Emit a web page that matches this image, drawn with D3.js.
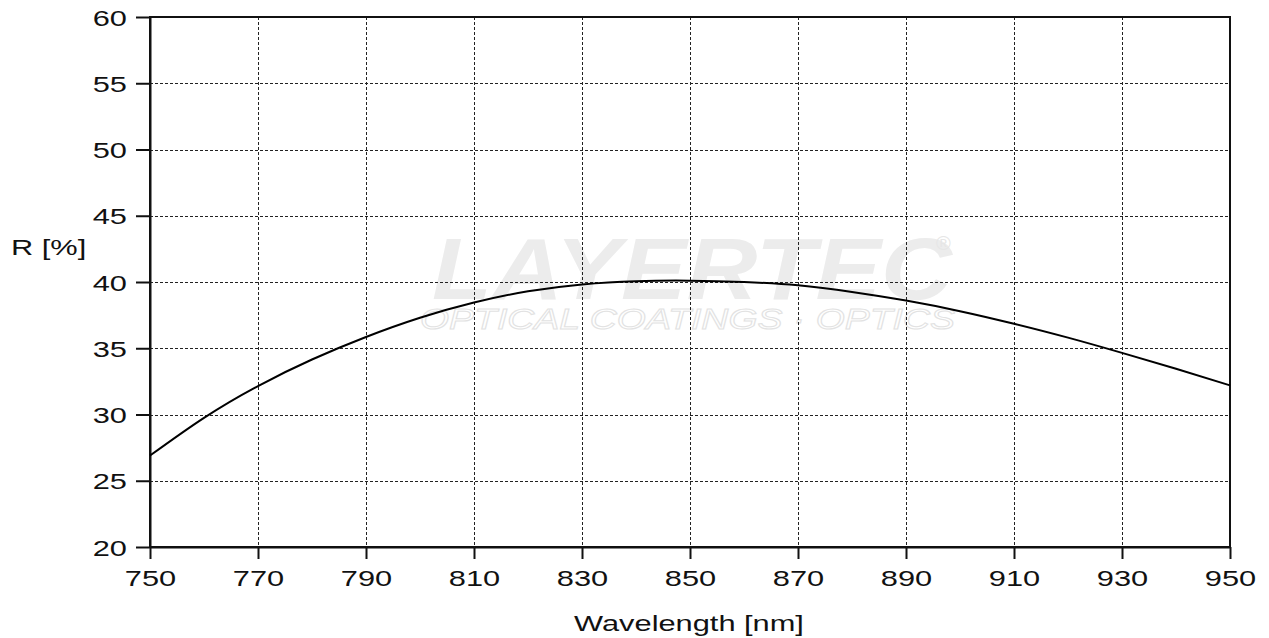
<!DOCTYPE html>
<html>
<head>
<meta charset="utf-8">
<script src="https://cdn.jsdelivr.net/npm/d3@7"></script>
<style>
  html, body { margin: 0; padding: 0; background: #fff; }
  svg text { font-family: "Liberation Sans", Arial, sans-serif; }
</style>
</head>
<body>
<svg id="chart" width="1269" height="638"></svg>
<script>
const wavelengths = [750, 760, 770, 780, 790, 800, 810, 820, 830, 840, 850, 860, 870, 880, 890, 900, 910, 920, 930, 940, 950];
const reflectance = [26.9, 29.75, 32.15, 34.15, 35.85, 37.3, 38.45, 39.3, 39.82, 40.06, 40.1, 40.0, 39.75, 39.25, 38.6, 37.8, 36.85, 35.8, 34.65, 33.45, 32.2];
const xTicks = [750, 770, 790, 810, 830, 850, 870, 890, 910, 930, 950];
const yTicks = [20, 25, 30, 35, 40, 45, 50, 55, 60];
const xLabel = "Wavelength [nm]";
const yLabel = "R [%]";

const svg = d3.select("#chart");
const L = 150, R = 1230, T = 17, B = 547;
const x = d3.scaleLinear().domain([750, 950]).range([L, R]);
const y = d3.scaleLinear().domain([20, 60]).range([B, T]);
const SX = 1.4;

// watermark
const wm = svg.append("g");
wm.append("text")
  .attr("x", 432).attr("y", 299)
  .attr("textLength", 520).attr("lengthAdjust", "spacingAndGlyphs")
  .style("font-size", "88px").style("font-weight", "bold").style("font-style", "italic")
  .attr("fill", "#ececec").text("LAYERTEC");
wm.append("text")
  .attr("x", 936).attr("y", 250)
  .style("font-size", "20px").attr("fill", "#e6e6e6").text("®");
wm.append("text")
  .attr("x", 420).attr("y", 329)
  .attr("textLength", 535).attr("lengthAdjust", "spacingAndGlyphs")
  .style("font-size", "30px").style("font-style", "italic")
  .attr("fill", "none").attr("stroke", "#e2e2e2").attr("stroke-width", 1)
  .text("OPTICAL COATINGS · OPTICS");

// grid
const grid = svg.append("g").attr("stroke", "#222").attr("stroke-width", 1).attr("stroke-dasharray", "3,2");
grid.selectAll("line.v").data(xTicks.slice(1, -1)).enter().append("line")
  .attr("x1", d => Math.round(x(d)) + 0.5).attr("x2", d => Math.round(x(d)) + 0.5)
  .attr("y1", T).attr("y2", B);
grid.selectAll("line.h").data(yTicks.slice(1, -1)).enter().append("line")
  .attr("y1", d => Math.round(y(d)) + 0.5).attr("y2", d => Math.round(y(d)) + 0.5)
  .attr("x1", L).attr("x2", R);

// frame
svg.append("rect").attr("x", L).attr("y", T).attr("width", R - L).attr("height", B - T)
  .attr("fill", "none").attr("stroke", "#111").attr("stroke-width", 2);

// axes
const xAxis = svg.append("g").attr("transform", `translate(0,${B})`)
  .call(d3.axisBottom(x).tickValues(xTicks).tickSize(12).tickSizeOuter(0).tickFormat(d3.format("d")));
const yAxis = svg.append("g").attr("transform", `translate(${L},0)`)
  .call(d3.axisLeft(y).tickValues(yTicks).tickSize(14).tickSizeOuter(0).tickFormat(d3.format("d")));
[xAxis, yAxis].forEach(g => {
  g.select(".domain").attr("stroke", "#111").attr("stroke-width", 2);
  g.selectAll(".tick line").attr("stroke", "#111").attr("stroke-width", 2);
});
xAxis.selectAll(".tick text")
  .attr("y", null).attr("dy", null)
  .attr("transform", `translate(0,39) scale(${SX},1)`)
  .attr("fill", "#111").style("font-size", "22px").attr("text-anchor", "middle");
yAxis.selectAll(".tick text")
  .attr("x", null).attr("dy", null)
  .attr("transform", `translate(-23,8) scale(${SX},1)`)
  .attr("fill", "#111").style("font-size", "22px").attr("text-anchor", "end");

// curve
const line = d3.line().x((d, i) => x(wavelengths[i])).y(d => y(d)).curve(d3.curveNatural);
svg.append("path").datum(reflectance).attr("d", line)
  .attr("fill", "none").attr("stroke", "#000").attr("stroke-width", 2);

// axis titles
svg.append("text").attr("transform", `translate(689,631) scale(${SX},1)`)
  .attr("text-anchor", "middle").style("font-size", "22px").attr("fill", "#111").text(xLabel);
svg.append("text").attr("transform", `translate(11,255) scale(${SX},1)`)
  .attr("text-anchor", "start").style("font-size", "22px").attr("fill", "#111").text(yLabel);
</script>
</body>
</html>
